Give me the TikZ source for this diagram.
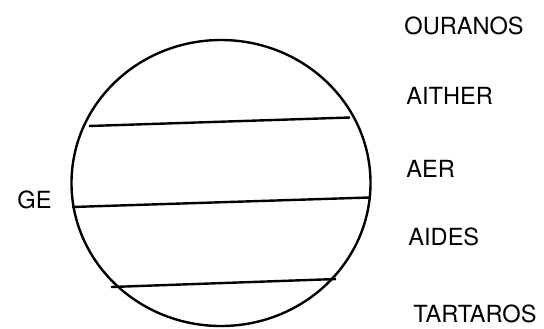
\documentclass[tikz,border=0pt]{standalone}
\usepackage{fontspec}
\setmainfont{TeX Gyre Heros}
\usepackage{tikz}
\usetikzlibrary{positioning}

\tikzset{
  layer/.style={anchor=base west, inner sep=0pt, font=\fontsize{11.8}{14}\selectfont},
  chord/.style={line width=1.2pt}
}

\begin{document}
\begin{tikzpicture}[x=0.5pt, y=-0.5pt]
  \useasboundingbox (0,0) rectangle (544,328);

  % the sphere and its layers
  \draw[chord] (221,183) ellipse [x radius=149.5, y radius=143];
  \draw[chord] (89,126) -- (350,117.5);
  \draw[chord] (72,207) -- (369,197.5);
  \draw[chord] (111,287) -- (336,279);

  \node[layer] (ouranos)  at (404,34.5)  {OURANOS};
  \node[layer] (aither)   at (406,104.5) {AITHER};
  \node[layer] (aer)      at (406,177.8) {AER};
  \node[layer] (aides)    at (408,245.8) {AIDES};
  \node[layer] (tartaros) at (413,322.5) {TARTAROS};
  \node[layer] (ge)       at (17,208.5)  {GE};
\end{tikzpicture}
\end{document}
